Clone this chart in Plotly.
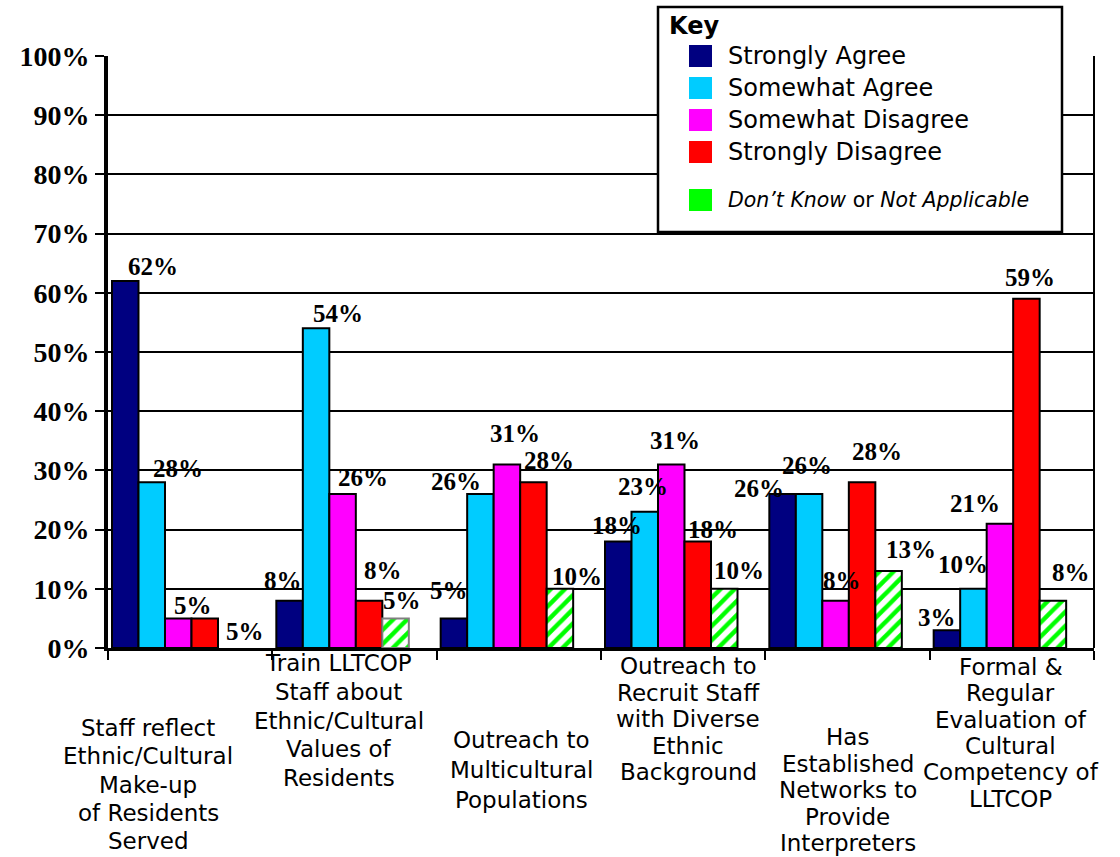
import plotly.graph_objects as go

# ---- data -------------------------------------------------------------
categories = [
    "Staff reflect<br>Ethnic/Cultural<br>Make-up<br>of Residents<br>Served",
    "Train LLTCOP<br>Staff about<br>Ethnic/Cultural<br>Values of<br>Residents",
    "Outreach to<br>Multicultural<br>Populations",
    "Outreach to<br>Recruit Staff<br>with Diverse<br>Ethnic<br>Background",
    "Has<br>Established<br>Networks to<br>Provide<br>Interpreters",
    "Formal &<br>Regular<br>Evaluation of<br>Cultural<br>Competency of<br>LLTCOP",
]
series_names = [
    "Strongly Agree",
    "Somewhat Agree",
    "Somewhat Disagree",
    "Strongly Disagree",
    "<i>Don\u2019t Know</i> or <i>Not Applicable</i>",
]
strongly_agree = [62, 8, 5, 18, 26, 3]
somewhat_agree = [28, 54, 26, 23, 26, 10]
somewhat_disagree = [5, 26, 31, 31, 8, 21]
strongly_disagree = [5, 8, 28, 18, 28, 59]
dont_know = [None, 5, 10, 10, 13, 8]
y_ticks = [0, 10, 20, 30, 40, 50, 60, 70, 80, 90, 100]
y_tick_labels = ["0%", "10%", "20%", "30%", "40%", "50%", "60%", "70%", "80%", "90%", "100%"]

series_values = [strongly_agree, somewhat_agree, somewhat_disagree,
                 strongly_disagree, dont_know]

# ---- styling ----------------------------------------------------------
colors = ["#000080", "#00CCFF", "#FF00FF", "#FF0000", "#00FF00"]
W, H = 1120, 857
ML, MR, MT, MB = 108, 26, 56, 209
PW, PH = W - ML - MR, H - MT - MB
GROUP_PX = PW / len(categories)
BAR_W = 26.5 / GROUP_PX
FIRST = 4 / GROUP_PX

SERIF_B = dict(family="Liberation Serif, Times New Roman, serif", color="black", weight="bold")
SANS = "DejaVu Sans, Verdana, sans-serif"


def px_x(p):
    return (p - ML) / PW


def px_y(p):
    return (H - MB - p) / PH


# per-label nudges for the value labels (dx px, gap above bar top px),
# indexed [series][group]
label_nudges = [
    [(28, 6), (-7, 12), (-5, 20), (-1, 8), (-24, -2), (-10, 5)],
    [(26, 6), (22, 7), (-24, 5), (-2, 17), (-2, 21), (-10, 16)],
    [(15, 5), (20, 9), (8, 23), (4, 16), (6, 12), (-25, 12)],
    [(40, -21), (14, 22), (16, 14), (15, 4), (15, 23), (4, 13)],
    [(0, 0), (6, 10), (17, 4), (15, 10), (22, 14), (18, 20)],
]

# category label placement: (x shift px, first line centre px, line pitch px)
cat_layout = [(-42, 728, 28.3), (-16, 663, 28.8), (3, 740, 30),
              (5, 666, 26.6), (0, 737, 26.5), (-1, 667, 26.3)]

fig = go.Figure()
annotations = []
shapes = []

for k, (name, vals, col) in enumerate(zip(series_names, series_values, colors)):
    marker = dict(color=col, line=dict(color="black", width=2))
    if k == 4:
        marker = dict(
            color=col,
            pattern=dict(shape="/", fgcolor=col, bgcolor="white", size=10,
                         solidity=0.45, fillmode="replace"),
            line=dict(color=["black", "#7f7f7f", "black", "black", "black", "black"], width=2),
        )
    fig.add_trace(go.Bar(
        name=name, x=categories, y=vals,
        offset=-0.5 + FIRST + k * BAR_W, width=BAR_W,
        marker=marker, showlegend=False, hoverinfo="skip",
    ))
    for g, v in enumerate(vals):
        if v is None:
            continue
        dx, gap = label_nudges[k][g]
        annotations.append(dict(
            x=g - 0.5 + FIRST + (k + 0.5) * BAR_W, y=v, xref="x", yref="y",
            text=f"{v}%", showarrow=False, xanchor="center", yanchor="middle",
            xshift=dx, yshift=gap + 8, font=dict(size=25, **SERIF_B),
        ))

# category labels below the axis, one annotation per line
for g, (cat, (sx, y0, pitch)) in enumerate(zip(categories, cat_layout)):
    for i, line in enumerate(cat.split("<br>")):
        yc = y0 + i * pitch
        annotations.append(dict(
            x=g, y=0, xref="x", yref="paper", text=line, showarrow=False,
            xanchor="center", yanchor="middle", xshift=sx, yshift=-(yc - (H - MB)),
            font=dict(family=SANS, size=23, color="black"),
        ))

# key box
shapes.append(dict(type="rect", xref="paper", yref="paper",
                   x0=px_x(658), x1=px_x(1062), y0=px_y(232), y1=px_y(7),
                   fillcolor="white", line=dict(color="black", width=2.5), layer="above"))
annotations.append(dict(x=px_x(667), y=px_y(26), xref="paper", yref="paper", text="Key",
                        showarrow=False, xanchor="left", yanchor="middle",
                        font=dict(family=SANS, size=24, color="black", weight="bold")))
key_rows = [56, 88, 120, 152, 200]
for k, (name, col, yc) in enumerate(zip(series_names, colors, key_rows)):
    shapes.append(dict(type="rect", xref="paper", yref="paper",
                       x0=px_x(689), x1=px_x(712), y0=px_y(yc + 11), y1=px_y(yc - 11),
                       fillcolor=col, line=dict(width=0), layer="above"))
    annotations.append(dict(x=px_x(726), y=px_y(yc), xref="paper", yref="paper", text=name,
                            showarrow=False, xanchor="left", yanchor="middle",
                            font=dict(family=SANS, size=24 if k < 4 else 20.5, color="black")))

# right frame edge
shapes.append(dict(type="line", xref="paper", yref="paper", x0=1, x1=1, y0=0, y1=1,
                   line=dict(color="black", width=2), layer="below"))

fig.update_layout(
    width=W, height=H,
    margin=dict(l=ML, r=MR, t=MT, b=MB, pad=0),
    paper_bgcolor="white", plot_bgcolor="white",
    barmode="overlay",
    showlegend=False,
    annotations=annotations,
    shapes=shapes,
    xaxis=dict(
        type="category", range=[-0.5, len(categories) - 0.5],
        showticklabels=False, ticks="outside", tickson="boundaries",
        ticklen=9, tickwidth=2, tickcolor="black",
        showline=True, linecolor="black", linewidth=3, showgrid=False, zeroline=False,
    ),
    yaxis=dict(
        range=[0, 100], tickmode="array", tickvals=y_ticks, ticktext=y_tick_labels,
        ticks="outside", ticklen=9, tickwidth=2, tickcolor="black",
        showline=True, linecolor="black", linewidth=4,
        showgrid=True, gridcolor="black", gridwidth=2, zeroline=False,
        tickfont=dict(size=28, **SERIF_B),
    ),
)

fig.write_html("out.html")
